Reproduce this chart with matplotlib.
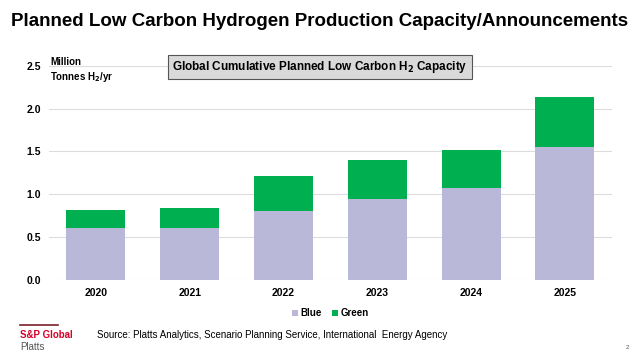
import numpy as np
import matplotlib.pyplot as plt

plt.rcParams["font.family"] = ["Liberation Sans", "DejaVu Sans"]

years = ["2020", "2021", "2022", "2023", "2024", "2025"]
blue = [0.61, 0.61, 0.806, 0.95, 1.074, 1.547]
total = [0.82, 0.837, 1.21, 1.395, 1.515, 2.136]
green = [t - b for t, b in zip(total, blue)]
yticks = [0.0, 0.5, 1.0, 1.5, 2.0, 2.5]

fig = plt.figure(figsize=(6.4, 3.6), dpi=100)
ax = fig.add_axes([0.0766, 0.222, 0.8794, 0.5955])

x = np.arange(len(years))
ax.bar(x, blue, width=0.63, color="#b9b8d9", label="Blue", zorder=2)
ax.bar(x, green, width=0.63, bottom=blue, color="#00b050", label="Green", zorder=2)

ax.set_xlim(-0.5, 5.5)
ax.set_ylim(0, 2.5)
ax.set_yticks(yticks)
ax.set_yticklabels([f"{v:.1f}" for v in yticks], fontsize=7.5, fontweight="bold")
ax.set_xticks(x)
ax.set_xticklabels(years, fontsize=7.5, fontweight="bold")
ax.tick_params(length=0, pad=6)
ax.grid(axis="y", color="#dcdcdc", linewidth=0.8, zorder=0)
for s in ax.spines.values():
    s.set_visible(False)

ax.legend(loc="upper center", bbox_to_anchor=(0.5, -0.09), ncol=2, frameon=False,
          prop={"size": 7, "weight": "bold"}, handlelength=0.6, handleheight=0.6,
          handletextpad=0.3, columnspacing=1.0)

fig.text(0.5, 0.94, "Planned Low Carbon Hydrogen Production Capacity/Announcements",
         ha="center", va="center", fontsize=13.5, fontweight="bold")
fig.text(0.5, 0.814, "Global Cumulative Planned Low Carbon H$_\\mathbf{2}$ Capacity",
         ha="center", va="center", fontsize=8.5, fontweight="bold",
         bbox=dict(boxstyle="square,pad=0.35", facecolor="#d9d9d9", edgecolor="#555555", linewidth=0.8))
fig.text(0.078, 0.805, "Million\nTonnes H$_\\mathbf{2}$/yr", ha="left", va="center",
         fontsize=7, fontweight="bold", linespacing=1.3)

fig.add_artist(plt.Line2D([0.031, 0.09], [0.097, 0.097], color="#7a1f2b", linewidth=1.2))
fig.text(0.031, 0.07, "S&P Global", ha="left", va="center", fontsize=7,
         fontweight="bold", color="#d6002a")
fig.text(0.031, 0.035, "Platts", ha="left", va="center", fontsize=7, color="#555555")
fig.text(0.152, 0.07, "Source: Platts Analytics, Scenario Planning Service, International  Energy Agency",
         ha="left", va="center", fontsize=7)
fig.text(0.98, 0.035, "2", ha="center", va="center", fontsize=4.5, color="#555555")

fig.savefig("out.png", dpi=100)
